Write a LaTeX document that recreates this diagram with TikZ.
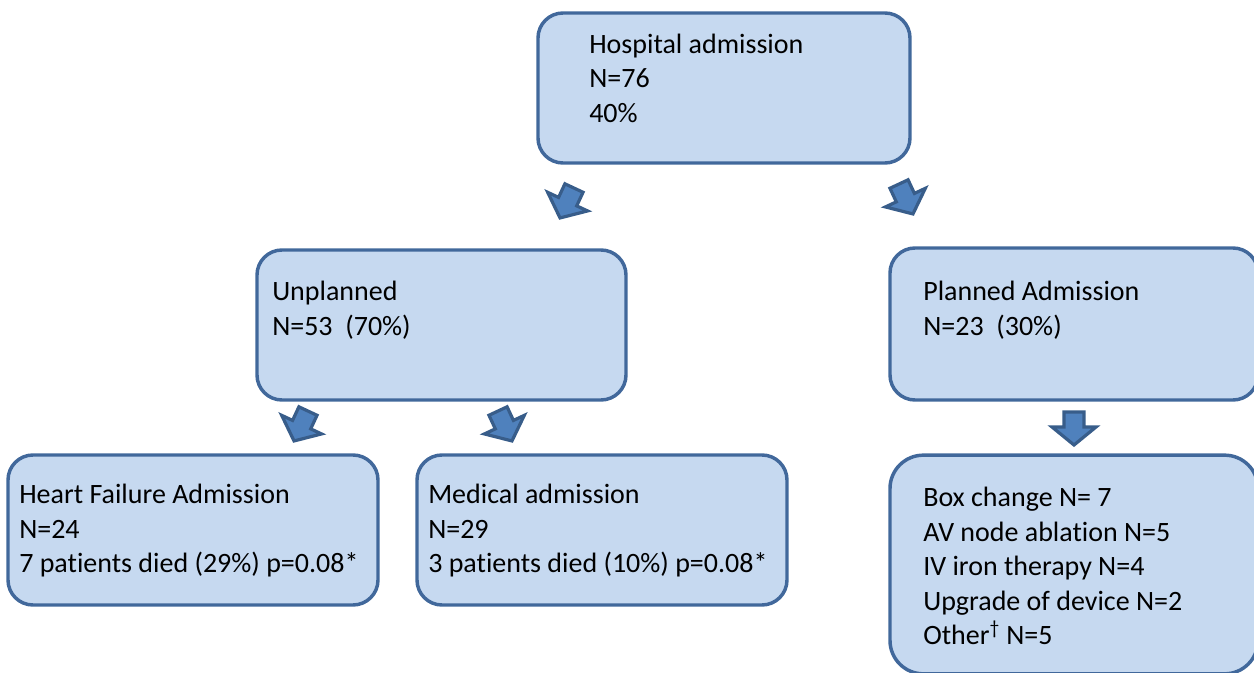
\documentclass[tikz,border=0pt]{standalone}
\usepackage{fontspec}
\setmainfont[Ligatures=NoCommon]{Carlito}
\definecolor{boxfill}{HTML}{C6D9F0}
\definecolor{boxline}{HTML}{41689B}
\definecolor{arrfill}{HTML}{4F81BD}
\definecolor{arrline}{HTML}{385D8A}
\tikzset{
  boxnode/.style={draw=boxline, fill=boxfill, line width=2.6pt, rectangle, rounded corners=18.75pt, inner sep=0pt},
  txt/.style={anchor=west, align=left, inner sep=0pt, font=\fontsize{21pt}{25.9pt}\selectfont},
  arrowstyle/.style={draw=arrline, fill=arrfill, line width=2.4pt, line join=miter},
  blockarrow/.pic={\path[arrowstyle, rotate=#1] (-10,-16.5) -- (10,-16.5) -- (10,-1.5) -- (22,-1.5) -- (0,16.5) -- (-22,-1.5) -- (-10,-1.5) -- cycle;}
}
\begin{document}
\begin{tikzpicture}[x=0.75pt, y=-0.75pt]
\useasboundingbox (0,0) rectangle (1254,673);
\clip (0,0) rectangle (1254,673);
% boxes
\node[boxnode, minimum width=279pt, minimum height=112.5pt] (hosp) at (724,88) {};
\node[boxnode, minimum width=276.75pt, minimum height=112.5pt] (unpl) at (441.5,325) {};
\node[boxnode, minimum width=276pt, minimum height=114pt] (plan) at (1074,324) {};
\node[boxnode, minimum width=277.5pt, minimum height=112.5pt] (hf) at (193,530) {};
\node[boxnode, minimum width=277.5pt, minimum height=112.5pt] (med) at (602,530) {};
\node[boxnode, minimum width=276pt, minimum height=164pt, rounded corners=25pt] (proc) at (1074,564.5) {};
% texts
\node[txt] (hosp-t) at (589,78) {Hospital admission\\N=76\\40\%};
\node[txt] (unpl-t) at (272,310) {Unplanned\\N=53\ \ (70\%)};
\node[txt] (plan-t) at (923,310) {Planned Admission\\N=23\ \ (30\%)};
\node[txt] (hf-t) at (19,531) {Heart Failure Admission\\N=24\\7 patients died (29\%) p=0.08*};
\node[txt] (med-t) at (428,531) {Medical admission\\N=29\\3 patients died (10\%) p=0.08*};
\node[txt] (proc-t) at (923,566) {Box change N= 7\\AV node ablation N=5\\IV iron therapy N=4\\Upgrade of device N=2\\Other\textsuperscript{†} N=5};
% block arrows
\pic (a1) at (567,203) {blockarrow=-25};
\pic (a2) at (906,199) {blockarrow=25};
\pic (a3) at (301,426) {blockarrow=-25};
\pic (a4) at (505,426) {blockarrow=25};
\pic (a5) at (1074,428.5) {blockarrow=0};
\end{tikzpicture}
\end{document}
